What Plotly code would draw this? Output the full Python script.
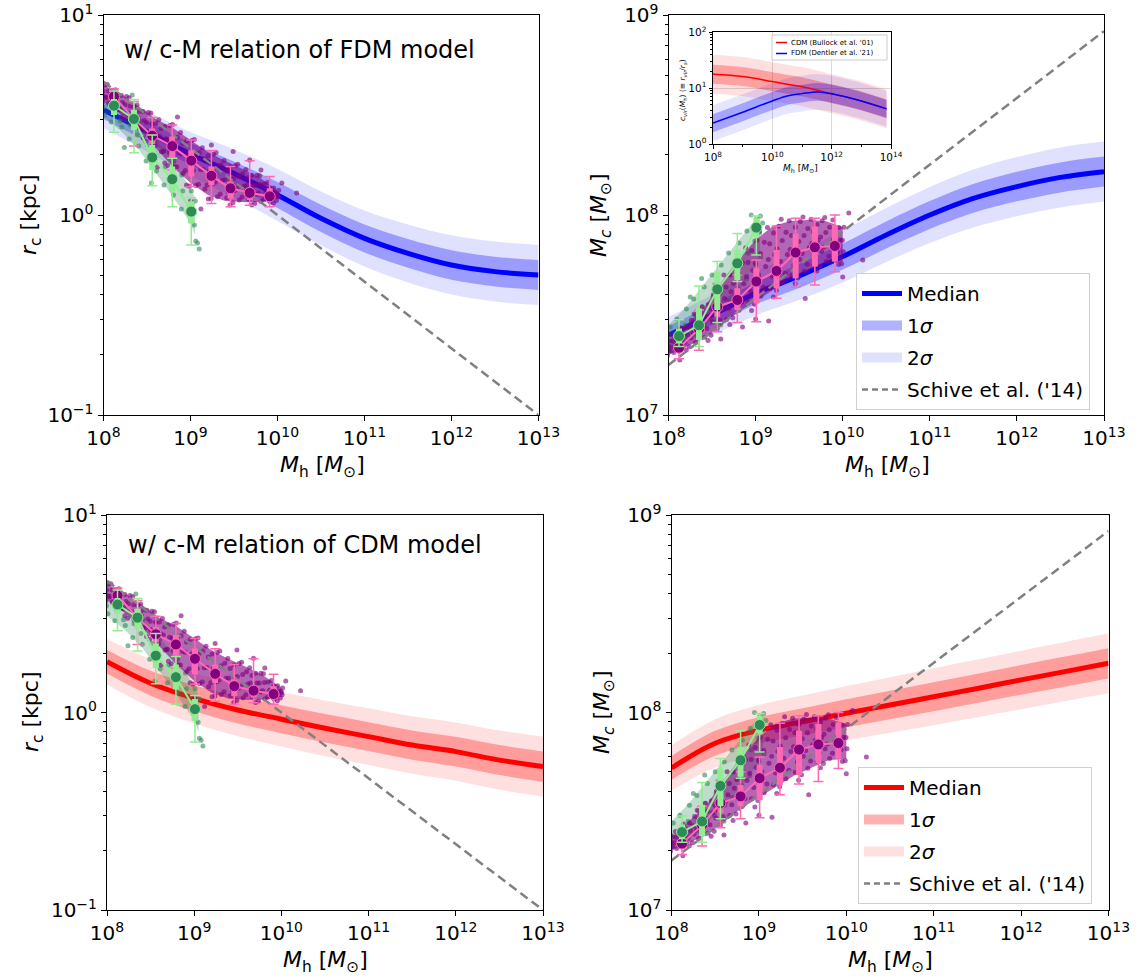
import plotly.graph_objects as go

FONT = "DejaVu Sans"
W, H = 1145, 978

# ---------------- model curves (halo mass grid) ----------------
MH_GRID = [1e8, 3.16e8, 1e9, 3.16e9, 1e10, 3.16e10, 1e11, 3.16e11, 1e12, 3.16e12, 1e13]

# FDM concentration: core radius [kpc]
FDM_RC_MED = [3.350, 2.612, 2.018, 1.614, 1.259, 0.962, 0.764, 0.643, 0.562, 0.521, 0.501]
FDM_RC_HI1 = [3.715, 2.931, 2.291, 1.854, 1.462, 1.125, 0.897, 0.759, 0.667, 0.619, 0.596]
FDM_RC_LO1 = [3.020, 2.328, 1.778, 1.406, 1.084, 0.822, 0.650, 0.545, 0.474, 0.439, 0.422]
FDM_RC_HI2 = [4.121, 3.289, 2.600, 2.128, 1.698, 1.312, 1.054, 0.897, 0.791, 0.736, 0.708]
FDM_RC_LO2 = [2.723, 2.075, 1.567, 1.225, 0.933, 0.705, 0.553, 0.460, 0.400, 0.369, 0.355]

# FDM concentration: core mass [Msun]
FDM_MC_MED = [2.512e7, 3.162e7, 4.055e7, 4.955e7, 6.194e7, 7.943e7, 1.000e8, 1.211e8, 1.387e8, 1.542e8, 1.648e8]
FDM_MC_HI1 = [2.786e7, 3.548e7, 4.603e7, 5.689e7, 7.194e7, 9.290e7, 1.175e8, 1.429e8, 1.644e8, 1.832e8, 1.959e8]
FDM_MC_LO1 = [2.265e7, 2.818e7, 3.573e7, 4.315e7, 5.333e7, 6.792e7, 8.511e7, 1.026e8, 1.170e8, 1.297e8, 1.387e8]
FDM_MC_HI2 = [3.090e7, 3.981e7, 5.224e7, 6.531e7, 8.356e7, 1.084e8, 1.380e8, 1.690e8, 1.950e8, 2.178e8, 2.328e8]
FDM_MC_LO2 = [2.042e7, 2.512e7, 3.148e7, 3.758e7, 4.592e7, 5.821e7, 7.244e7, 8.670e7, 9.863e7, 1.091e8, 1.167e8]

# CDM concentration: core radius [kpc]
CDM_RC_MED = [1.807, 1.406, 1.180, 1.030, 0.925, 0.832, 0.755, 0.684, 0.634, 0.574, 0.532]
CDM_RC_HI1 = [2.075, 1.626, 1.374, 1.208, 1.089, 0.982, 0.893, 0.811, 0.753, 0.684, 0.635]
CDM_RC_LO1 = [1.574, 1.216, 1.014, 0.879, 0.785, 0.705, 0.638, 0.577, 0.533, 0.482, 0.446]
CDM_RC_HI2 = [2.355, 1.862, 1.585, 1.400, 1.271, 1.151, 1.052, 0.957, 0.891, 0.811, 0.755]
CDM_RC_LO2 = [1.387, 1.062, 0.879, 0.759, 0.673, 0.601, 0.542, 0.489, 0.451, 0.406, 0.375]

# CDM concentration: core mass [Msun]
CDM_MC_MED = [5.236e7, 6.982e7, 8.128e7, 8.974e7, 9.908e7, 1.091e8, 1.202e8, 1.324e8, 1.462e8, 1.611e8, 1.774e8]
CDM_MC_HI1 = [6.012e7, 8.072e7, 9.462e7, 1.052e8, 1.167e8, 1.288e8, 1.422e8, 1.570e8, 1.738e8, 1.919e8, 2.118e8]
CDM_MC_LO1 = [4.560e7, 6.039e7, 6.982e7, 7.656e7, 8.414e7, 9.247e7, 1.016e8, 1.117e8, 1.230e8, 1.352e8, 1.486e8]
CDM_MC_HI2 = [6.823e7, 9.247e7, 1.091e8, 1.219e8, 1.361e8, 1.510e8, 1.675e8, 1.853e8, 2.056e8, 2.275e8, 2.518e8]
CDM_MC_LO2 = [4.018e7, 5.272e7, 6.053e7, 6.607e7, 7.211e7, 7.889e7, 8.630e7, 9.462e7, 1.040e8, 1.140e8, 1.250e8]

# Schive et al. (2014) core-halo relation
SCHIVE_MH = [1e8, 1e13]
SCHIVE_RC = [4.64, 0.1]
SCHIVE_MC = [1.78e7, 8.3e8]

# ---------------- concentration-mass relations (inset) ----------------
INSET_MH = [1e8, 1e9, 1e10, 3.16e10, 1e11, 3.16e11, 1e12, 1e13, 7.08e13]
CVIR_CDM_MED = [17.7, 16.1, 13.1, 11.7, 10.6, 9.23, 7.94, 5.90, 4.25]
CVIR_CDM_HI1 = [26.2, 23.8, 19.3, 17.4, 15.7, 13.6, 11.7, 8.73, 6.28]
CVIR_CDM_LO1 = [12.0, 10.9, 8.83, 7.94, 7.19, 6.24, 5.37, 3.99, 2.87]
CVIR_CDM_HI2 = [39.7, 36.0, 29.2, 26.3, 23.8, 20.7, 17.8, 13.2, 9.51]
CVIR_CDM_LO2 = [7.93, 7.18, 5.83, 5.25, 4.75, 4.12, 3.55, 2.64, 1.90]
CVIR_FDM_MED = [2.36, 3.71, 5.90, 7.24, 7.98, 8.55, 7.94, 5.90, 4.25]
CVIR_FDM_HI1 = [3.40, 5.36, 8.53, 10.5, 11.5, 12.4, 11.5, 8.53, 6.14]
CVIR_FDM_LO1 = [1.63, 2.56, 4.08, 5.01, 5.52, 5.92, 5.50, 4.08, 2.94]
CVIR_FDM_HI2 = [4.92, 7.74, 12.3, 15.1, 16.7, 17.9, 16.6, 12.3, 8.87]
CVIR_FDM_LO2 = [1.13, 1.77, 2.82, 3.47, 3.82, 4.09, 3.80, 2.82, 2.03]
INSET_LABELS = ["CDM (Bullock et al. '01)", "FDM (Dentler et al. '21)"]

# ---------------- simulated haloes: binned statistics ----------------
BIN_MH = [1.32e8, 2.24e8, 3.63e8, 6.17e8, 1.02e9, 1.74e9, 2.88e9, 4.79e9, 8.13e9]
GBIN_MH = [1.32e8, 2.24e8, 3.63e8, 6.17e8, 1.02e9]

PINK_RC_MED = [3.91, 3.02, 2.49, 2.21, 1.87, 1.57, 1.36, 1.29, 1.24]
PINK_RC_HI = [4.27, 3.69, 3.07, 2.82, 2.37, 2.10, 1.75, 1.87, 1.56]
PINK_RC_LO = [3.55, 2.21, 2.00, 1.68, 1.39, 1.14, 1.10, 1.12, 1.10]
PINK_RC_HIQ = [4.09, 3.35, 2.71, 2.47, 2.11, 1.75, 1.47, 1.36, 1.36]
PINK_RC_LOQ = [3.73, 2.71, 2.26, 1.94, 1.56, 1.41, 1.21, 1.19, 1.17]

GREEN_RC_MED = [3.52, 3.02, 1.94, 1.51, 1.04]
GREEN_RC_HI = [4.17, 3.78, 2.51, 1.92, 1.22]
GREEN_RC_LO = [2.59, 2.05, 1.40, 1.10, 0.708]
GREEN_RC_HIQ = [3.80, 3.35, 2.24, 1.75, 1.17]
GREEN_RC_LOQ = [3.16, 2.66, 1.68, 1.31, 0.908]

PINK_MC_MED = [2.17e7, 2.69e7, 3.48e7, 3.76e7, 4.65e7, 5.25e7, 6.49e7, 6.89e7, 7.00e7]
PINK_MC_HI = [2.51e7, 3.35e7, 4.55e7, 5.01e7, 5.96e7, 8.81e7, 9.62e7, 9.62e7, 1.00e8]
PINK_MC_LO = [1.91e7, 2.11e7, 2.61e7, 2.90e7, 2.93e7, 3.83e7, 4.35e7, 4.47e7, 5.21e7]
PINK_MC_HIQ = [2.29e7, 3.02e7, 3.91e7, 4.30e7, 5.41e7, 6.68e7, 8.09e7, 8.75e7, 8.91e7]
PINK_MC_LOQ = [2.04e7, 2.43e7, 3.10e7, 3.35e7, 3.61e7, 4.30e7, 4.82e7, 5.52e7, 5.85e7]

GREEN_MC_MED = [2.48e7, 2.81e7, 4.25e7, 5.73e7, 8.65e7]
GREEN_MC_HI = [2.99e7, 4.42e7, 5.85e7, 8.09e7, 9.89e7]
GREEN_MC_LO = [2.20e7, 2.20e7, 2.90e7, 4.65e7, 6.31e7]
GREEN_MC_HIQ = [2.71e7, 3.41e7, 5.21e7, 6.68e7, 9.62e7]
GREEN_MC_LOQ = [2.28e7, 2.37e7, 3.35e7, 4.73e7, 7.80e7]

# ---------------- simulated haloes: individual systems (log10 values) ----------------
PUR_LOGM = [
    7.988, 8.008, 7.996, 8.014, 8.06, 8.035, 8.056, 8.044, 8.092, 8.115, 8.10,
    8.166, 8.146, 8.162, 8.136, 8.204, 8.19, 8.218, 8.206, 8.238, 8.258, 8.246, 8.264,
    8.31, 8.285, 8.306, 8.294, 8.342, 8.365, 8.35, 8.416, 8.396, 8.412, 8.386,
    8.454, 8.44, 8.468, 8.456, 8.488, 8.508, 8.496, 8.514, 8.56, 8.535, 8.556, 8.544,
    8.592, 8.615, 8.60, 8.666, 8.646, 8.662, 8.636, 8.704, 8.69, 8.718, 8.706,
    8.738, 8.758, 8.746, 8.764, 8.81, 8.785, 8.806, 8.794, 8.842, 8.865, 8.85,
    8.916, 8.896, 8.912, 8.886, 8.954, 8.94, 8.968, 8.956, 8.988, 9.008, 8.996, 9.014,
    9.06, 9.035, 9.056, 9.044, 9.092, 9.115, 9.10, 9.166, 9.146, 9.162, 9.136,
    9.204, 9.19, 9.218, 9.206, 9.238, 9.258, 9.246, 9.264, 9.31, 9.285, 9.306, 9.294,
    9.342, 9.365, 9.35, 9.416, 9.396, 9.412, 9.386, 9.454, 9.44, 9.468, 9.456,
    9.488, 9.508, 9.496, 9.514, 9.56, 9.535, 9.556, 9.544, 9.592, 9.615, 9.60,
    9.666, 9.646, 9.662, 9.636, 9.704, 9.69, 9.718, 9.706, 9.738, 9.758, 9.746, 9.764,
    9.81, 9.785, 9.806, 9.794, 9.842, 9.865, 9.85, 9.916, 9.896, 9.912, 9.886,
    9.954, 9.94, 9.968, 9.956, 9.988, 10.008, 9.996, 10.014,
]
PUR_LOGRC = [
    .565, .593, .62, .65, .558, .589, .620, .652, .554, .586, .624,
    .529, .575, .60, .626, .49, .525, .562, .598, .477, .515, .551, .592,
    .467, .506, .545, .586, .459, .498, .543, .433, .488, .518, .55,
    .385, .428, .473, .518, .369, .416, .462, .513, .357, .407, .457, .51,
    .348, .399, .458, .316, .392, .433, .476, .26, .319, .381, .443,
    .247, .313, .376, .447, .24, .31, .38, .453, .241, .31, .389,
    .209, .305, .357, .412, .15, .222, .296, .37, .144, .219, .292, .373,
    .147, .223, .299, .377, .154, .227, .311, .13, .228, .281, .336,
    .08, .15, .223, .296, .083, .156, .226, .304, .091, .164, .237, .312,
    .105, .173, .25, .086, .175, .223, .273, .05, .112, .177, .241,
    .061, .123, .182, .248, .075, .134, .193, .254, .09, .144, .206,
    .079, .149, .187, .227, .05, .099, .149, .199, .058, .104, .149, .199,
    .068, .11, .152, .196, .077, .113, .155, .068, .112, .136, .162,
    .06, .084, .11, .135, .073, .09, .106, .124,
]
PUR_LOGMC = [
    7.296, 7.321, 7.345, 7.371, 7.312, 7.34, 7.368, 7.397, 7.333, 7.364, 7.40,
    7.336, 7.384, 7.409, 7.436, 7.325, 7.363, 7.402, 7.441, 7.341, 7.385, 7.427, 7.474,
    7.362, 7.409, 7.456, 7.505, 7.386, 7.435, 7.49, 7.389, 7.461, 7.50, 7.541,
    7.373, 7.432, 7.492, 7.553, 7.399, 7.466, 7.53, 7.601, 7.431, 7.504, 7.577, 7.652,
    7.472, 7.546, 7.63, 7.478, 7.583, 7.64, 7.70, 7.453, 7.533, 7.616, 7.70,
    7.486, 7.574, 7.659, 7.754, 7.524, 7.615, 7.706, 7.80, 7.565, 7.656, 7.761,
    7.563, 7.692, 7.762, 7.836, 7.522, 7.62, 7.722, 7.823, 7.554, 7.659, 7.76, 7.873,
    7.594, 7.701, 7.808, 7.919, 7.638, 7.743, 7.864, 7.634, 7.778, 7.856, 7.938,
    7.59, 7.694, 7.802, 7.91, 7.624, 7.729, 7.831, 7.944, 7.664, 7.768, 7.872, 7.979,
    7.707, 7.803, 7.914, 7.698, 7.827, 7.897, 7.971, 7.657, 7.749, 7.844, 7.939,
    7.685, 7.778, 7.867, 7.967, 7.718, 7.808, 7.898, 7.99, 7.754, 7.837, 7.932,
    7.75, 7.859, 7.918, 7.979, 7.72, 7.796, 7.874, 7.952, 7.742, 7.817, 7.89, 7.971,
    7.767, 7.84, 7.913, 7.988, 7.794, 7.862, 7.939, 7.788, 7.877, 7.925, 7.975,
    7.752, 7.812, 7.875, 7.937, 7.756, 7.816, 7.874, 7.939,
]
PUR_RC_OUT_LOGM = [8.85, 9.24, 9.49, 9.68, 9.81, 10.0, 10.22, 10.05, 8.62, 9.0, 9.12]
PUR_RC_OUT_LOGR = [0.49, 0.35, 0.317, 0.275, 0.225, 0.10, 0.11, 0.16, 0.24, 0.07, 0.03]
PUR_MC_OUT_LOGM = [9.57, 10.23, 10.0, 8.13, 8.6, 9.0, 9.15, 8.85, 10.07]
PUR_MC_OUT_LOGMC = [7.583, 7.775, 7.69, 7.275, 7.38, 7.48, 7.47, 7.44, 8.01]

GRN_LOGM = [8.01, 7.995, 8.02, 8.09, 8.11, 8.095, 8.21, 8.19, 8.205, 8.295, 8.31, 8.29,
            8.405, 8.39, 8.41, 8.49, 8.51, 8.50, 8.61, 8.595, 8.605, 8.695, 8.71, 8.69,
            8.805, 8.79, 8.81, 8.895, 8.91, 8.90, 9.0, 8.99, 9.01, 9.06, 9.045, 9.055]
GRN_LOGRC = [.50, .54, .585, .465, .52, .57, .44, .47, .535, .38, .45, .51,
             .345, .40, .47, .27, .35, .42, .22, .29, .37, .15, .24, .32,
             .10, .18, .27, .03, .12, .20, -.03, .04, .12, -.13, -.05, .07]
GRN_LOGMC = [7.32, 7.38, 7.44, 7.345, 7.41, 7.48, 7.38, 7.45, 7.53, 7.40, 7.50, 7.58,
             7.45, 7.54, 7.64, 7.48, 7.59, 7.70, 7.53, 7.63, 7.75, 7.57, 7.70, 7.81,
             7.63, 7.74, 7.86, 7.68, 7.81, 7.92, 7.75, 7.87, 7.98, 7.79, 7.91, 7.995]
GRN_RC_OUT_LOGM = [8.24, 8.33, 8.55, 9.08, 9.10]
GRN_RC_OUT_LOGR = [0.338, 0.60, 0.16, -0.14, -0.17]
GRN_MC_OUT_LOGM = [8.38, 8.25, 8.95, 9.08, 8.60]
GRN_MC_OUT_LOGMC = [7.683, 7.59, 8.0, 7.96, 7.45]

# densest parts of the two simulated samples
CORE_LOGM = [8.0, 8.2, 8.4, 8.6, 8.8, 9.0, 9.2, 9.4, 9.6, 9.8, 10.0]
RC_CORE_LO = [0.57, 0.505, 0.43, 0.335, 0.24, 0.16, 0.10, 0.07, 0.065, 0.065, 0.08]
RC_CORE_HI = [0.65, 0.605, 0.545, 0.48, 0.435, 0.375, 0.315, 0.27, 0.23, 0.185, 0.125]
MC_CORE_LO = [7.30, 7.34, 7.38, 7.445, 7.515, 7.57, 7.625, 7.68, 7.72, 7.76, 7.765]
MC_CORE_HI = [7.37, 7.45, 7.53, 7.66, 7.775, 7.875, 7.945, 7.97, 7.975, 7.97, 7.94]
GCORE_LOGM = [8.0, 8.2, 8.4, 8.6, 8.8, 9.0, 9.05]
GRC_CORE_LO = [0.49, 0.42, 0.33, 0.21, 0.09, -0.04, -0.10]
GRC_CORE_HI = [0.59, 0.545, 0.48, 0.38, 0.28, 0.13, 0.09]
GMC_CORE_LO = [7.31, 7.37, 7.44, 7.52, 7.62, 7.75, 7.79]
GMC_CORE_HI = [7.45, 7.54, 7.65, 7.76, 7.87, 7.98, 7.99]

# ---------------- styles ----------------
BLUE, RED = "#0000ff", "#ff0000"
BLUE_1S, BLUE_2S = "rgba(0,0,255,0.30)", "rgba(0,0,255,0.12)"
RED_1S, RED_2S = "rgba(255,0,0,0.30)", "rgba(255,0,0,0.12)"
PINK, PURPLE = "#ff69b4", "#800080"
LGREEN, SGREEN = "#90ee90", "#2e8b57"
GRAY = "#808080"


def lin(vals):
    return [10 ** v for v in vals]


fig = go.Figure()


def band(xa, ya, xs, lo, hi, fill, shape="spline"):
    fig.add_trace(go.Scatter(x=xs, y=lo, mode="lines", line=dict(width=0, shape=shape),
                             xaxis=xa, yaxis=ya, showlegend=False, hoverinfo="skip"))
    fig.add_trace(go.Scatter(x=xs, y=hi, mode="lines", line=dict(width=0, shape=shape),
                             fill="tonexty", fillcolor=fill, xaxis=xa, yaxis=ya,
                             showlegend=False, hoverinfo="skip"))


def dots(xa, ya, logx, logy, color):
    fig.add_trace(go.Scatter(x=lin(logx), y=lin(logy), mode="markers",
                             marker=dict(size=5, color=color, line=dict(width=0)),
                             xaxis=xa, yaxis=ya, showlegend=False, hoverinfo="skip"))


def cloud(xa, ya, quantity):
    if quantity == "rc":
        band(xa, ya, lin(GCORE_LOGM), lin(GRC_CORE_LO), lin(GRC_CORE_HI), "rgba(46,139,87,0.30)", "linear")
        dots(xa, ya, GRN_LOGM + GRN_RC_OUT_LOGM, GRN_LOGRC + GRN_RC_OUT_LOGR, "rgba(46,139,87,0.6)")
        band(xa, ya, lin(CORE_LOGM), lin(RC_CORE_LO), lin(RC_CORE_HI), "rgba(128,0,128,0.6)", "linear")
        dots(xa, ya, PUR_LOGM + PUR_RC_OUT_LOGM, PUR_LOGRC + PUR_RC_OUT_LOGR, "rgba(128,0,128,0.62)")
    else:
        band(xa, ya, lin(GCORE_LOGM), lin(GMC_CORE_LO), lin(GMC_CORE_HI), "rgba(46,139,87,0.30)", "linear")
        dots(xa, ya, GRN_LOGM + GRN_MC_OUT_LOGM, GRN_LOGMC + GRN_MC_OUT_LOGMC, "rgba(46,139,87,0.6)")
        band(xa, ya, lin(CORE_LOGM), lin(MC_CORE_LO), lin(MC_CORE_HI), "rgba(128,0,128,0.6)", "linear")
        dots(xa, ya, PUR_LOGM + PUR_MC_OUT_LOGM, PUR_LOGMC + PUR_MC_OUT_LOGMC, "rgba(128,0,128,0.62)")


def binned(xa, ya, xs, med, lo, hi, loq, hiq, line_col, mk_col):
    for low, high, thick, cap in ((lo, hi, 1.5, 5), (loq, hiq, 6, 0)):
        fig.add_trace(go.Scatter(
            x=xs, y=med, mode="markers", marker=dict(size=1, color="rgba(0,0,0,0)"),
            error_y=dict(type="data", symmetric=False,
                         array=[h - m for h, m in zip(high, med)],
                         arrayminus=[m - l for m, l in zip(med, low)],
                         color=line_col, thickness=thick, width=cap),
            xaxis=xa, yaxis=ya, showlegend=False, hoverinfo="skip"))
    fig.add_trace(go.Scatter(x=xs, y=med, mode="lines+markers",
                             line=dict(color=line_col, width=2),
                             marker=dict(size=11, color=mk_col, line=dict(color=line_col, width=1)),
                             xaxis=xa, yaxis=ya, showlegend=False, hoverinfo="skip"))


def panel(xa, ya, med, lo1, hi1, lo2, hi2, col, f1, f2, schive, quantity):
    band(xa, ya, MH_GRID, lo2, hi2, f2)
    band(xa, ya, MH_GRID, lo1, hi1, f1)
    fig.add_trace(go.Scatter(x=MH_GRID, y=med, mode="lines",
                             line=dict(color=col, width=5, shape="spline"),
                             xaxis=xa, yaxis=ya, showlegend=False, hoverinfo="skip"))
    cloud(xa, ya, quantity)
    fig.add_trace(go.Scatter(x=SCHIVE_MH, y=schive, mode="lines",
                             line=dict(color=GRAY, width=2.5, dash="9px,5px"),
                             xaxis=xa, yaxis=ya, showlegend=False, hoverinfo="skip"))
    if quantity == "rc":
        binned(xa, ya, BIN_MH, PINK_RC_MED, PINK_RC_LO, PINK_RC_HI, PINK_RC_LOQ, PINK_RC_HIQ, PINK, PURPLE)
        binned(xa, ya, GBIN_MH, GREEN_RC_MED, GREEN_RC_LO, GREEN_RC_HI, GREEN_RC_LOQ, GREEN_RC_HIQ, LGREEN, SGREEN)
    else:
        binned(xa, ya, BIN_MH, PINK_MC_MED, PINK_MC_LO, PINK_MC_HI, PINK_MC_LOQ, PINK_MC_HIQ, PINK, PURPLE)
        binned(xa, ya, GBIN_MH, GREEN_MC_MED, GREEN_MC_LO, GREEN_MC_HI, GREEN_MC_LOQ, GREEN_MC_HIQ, LGREEN, SGREEN)


def legend_entries(xa, ya, legend, col, f1, f2):
    entries = [
        ("Median", dict(color=col, width=5)),
        ("1<i>σ</i>", dict(color=f1, width=16)),
        ("2<i>σ</i>", dict(color=f2, width=16)),
        ("Schive et al. ('14)", dict(color=GRAY, width=2.5, dash="6px,4px")),
    ]
    for i, (name, line) in enumerate(entries):
        fig.add_trace(go.Scatter(x=[None], y=[None], mode="lines", name=name, line=line,
                                 xaxis=xa, yaxis=ya, legend=legend, legendgroup=f"{legend}{i}",
                                 showlegend=True, hoverinfo="skip"))


panel("x", "y", FDM_RC_MED, FDM_RC_LO1, FDM_RC_HI1, FDM_RC_LO2, FDM_RC_HI2, BLUE, BLUE_1S, BLUE_2S, SCHIVE_RC, "rc")
panel("x2", "y2", FDM_MC_MED, FDM_MC_LO1, FDM_MC_HI1, FDM_MC_LO2, FDM_MC_HI2, BLUE, BLUE_1S, BLUE_2S, SCHIVE_MC, "mc")
panel("x3", "y3", CDM_RC_MED, CDM_RC_LO1, CDM_RC_HI1, CDM_RC_LO2, CDM_RC_HI2, RED, RED_1S, RED_2S, SCHIVE_RC, "rc")
panel("x4", "y4", CDM_MC_MED, CDM_MC_LO1, CDM_MC_HI1, CDM_MC_LO2, CDM_MC_HI2, RED, RED_1S, RED_2S, SCHIVE_MC, "mc")
legend_entries("x2", "y2", "legend", BLUE, BLUE_1S, BLUE_2S)
legend_entries("x4", "y4", "legend2", RED, RED_1S, RED_2S)

# inset: concentration-mass relations
band("x5", "y5", INSET_MH, CVIR_CDM_LO2, CVIR_CDM_HI2, "rgba(255,0,0,0.12)")
band("x5", "y5", INSET_MH, CVIR_CDM_LO1, CVIR_CDM_HI1, "rgba(255,0,0,0.28)")
band("x5", "y5", INSET_MH, CVIR_FDM_LO2, CVIR_FDM_HI2, "rgba(0,0,255,0.10)")
band("x5", "y5", INSET_MH, CVIR_FDM_LO1, CVIR_FDM_HI1, "rgba(0,0,255,0.28)")
fig.add_trace(go.Scatter(x=INSET_MH, y=CVIR_CDM_MED, mode="lines", showlegend=False,
                         line=dict(color=RED, width=1.5, shape="spline"), xaxis="x5", yaxis="y5",
                         hoverinfo="skip"))
fig.add_trace(go.Scatter(x=INSET_MH, y=CVIR_FDM_MED, mode="lines", showlegend=False,
                         line=dict(color=BLUE, width=1.5, shape="spline"), xaxis="x5", yaxis="y5",
                         hoverinfo="skip"))


def dom_x(a, b):
    return [a / W, b / W]


def dom_y(top, bottom):
    return [1 - bottom / H, 1 - top / H]


def sup(e):
    return f"10<sup>{e}</sup>"


MH_TICKS = [1e8, 1e9, 1e10, 1e11, 1e12, 1e13]
MH_TEXT = [sup(e) for e in range(8, 14)]
RC_TICKS = [0.1, 1, 10]
RC_TEXT = [sup("−1"), sup(0), sup(1)]
RC_MINOR = [0.2, 0.3, 0.4, 0.5, 0.6, 0.7, 0.8, 0.9, 2, 3, 4, 5, 6, 7, 8, 9]
MC_TICKS = [1e7, 1e8, 1e9]
MC_TEXT = [sup(7), sup(8), sup(9)]
MC_MINOR = [2e7, 3e7, 4e7, 5e7, 6e7, 7e7, 8e7, 9e7, 2e8, 3e8, 4e8, 5e8, 6e8, 7e8, 8e8, 9e8]


def axis(domain, rng, anchor, tv, tt, minor=None, size=20, ticklen=5, grid=False):
    d = dict(type="log", domain=domain, range=rng, anchor=anchor, tickmode="array",
             tickvals=tv, ticktext=tt, ticks="outside", ticklen=ticklen, tickwidth=1,
             tickcolor="black", showline=True, linecolor="black", linewidth=1, mirror=True,
             showgrid=grid, gridcolor="#d9d9d9", gridwidth=1, zeroline=False, automargin=False,
             tickfont=dict(family=FONT, size=size, color="black"))
    if minor:
        d["minor"] = dict(tickmode="array", tickvals=minor, ticks="outside",
                          ticklen=max(2, ticklen - 2), tickcolor="black", showgrid=False)
    return d


TL = dict(x=(103.5, 538.5), y=(15, 415))
TR = dict(x=(668.5, 1104), y=(15, 415))
BL = dict(x=(107, 543), y=(515, 910))
BR = dict(x=(671.5, 1108.5), y=(515, 910))
IN = dict(x=(713, 891), y=(32.3, 144))

LEG = dict(xanchor="left", yanchor="top", font=dict(family=FONT, size=20, color="black"),
           bgcolor="rgba(255,255,255,0.8)", bordercolor="#d0d0d0", borderwidth=1,
           itemwidth=40, traceorder="grouped", tracegroupgap=3)

fig.update_layout(
    width=W, height=H, autosize=False,
    margin=dict(l=0, r=0, t=0, b=0, pad=0, autoexpand=False),
    paper_bgcolor="white", plot_bgcolor="rgba(0,0,0,0)",
    font=dict(family=FONT, color="black"),
    xaxis=axis(dom_x(*TL["x"]), [8, 13], "y", MH_TICKS, MH_TEXT),
    yaxis=axis(dom_y(*TL["y"]), [-1, 1], "x", RC_TICKS, RC_TEXT, RC_MINOR),
    xaxis2=axis(dom_x(*TR["x"]), [8, 13], "y2", MH_TICKS, MH_TEXT),
    yaxis2=axis(dom_y(*TR["y"]), [7, 9], "x2", MC_TICKS, MC_TEXT, MC_MINOR),
    xaxis3=axis(dom_x(*BL["x"]), [8, 13], "y3", MH_TICKS, MH_TEXT),
    yaxis3=axis(dom_y(*BL["y"]), [-1, 1], "x3", RC_TICKS, RC_TEXT, RC_MINOR),
    xaxis4=axis(dom_x(*BR["x"]), [8, 13], "y4", MH_TICKS, MH_TEXT),
    yaxis4=axis(dom_y(*BR["y"]), [7, 9], "x4", MC_TICKS, MC_TEXT, MC_MINOR),
    xaxis5=axis(dom_x(*IN["x"]), [8, 14], "y5", [1e8, 1e10, 1e12, 1e14],
                [sup(8), sup(10), sup(12), sup(14)], [1e9, 1e11, 1e13], size=10.5, ticklen=3.5, grid=True),
    yaxis5=axis(dom_y(*IN["y"]), [0, 2], "x5", [1, 10, 100], [sup(0), sup(1), sup(2)],
                [2, 3, 4, 5, 6, 7, 8, 9, 20, 30, 40, 50, 60, 70, 80, 90], size=10.5, ticklen=3.5, grid=True),
    legend=dict(x=856 / W, y=1 - 273 / H, **LEG),
    legend2=dict(x=858 / W, y=1 - 767 / H, **LEG),
)

# key for the inset curves
fig.add_shape(type="rect", xref="paper", yref="paper",
              x0=772 / W, x1=887 / W, y0=1 - 60 / H, y1=1 - 35 / H,
              line=dict(color="#cccccc", width=1), fillcolor="rgba(255,255,255,0.8)")
for row, (label, col) in enumerate(zip(INSET_LABELS, [RED, BLUE])):
    yy = 1 - (42.5 + 11 * row) / H
    fig.add_shape(type="line", xref="paper", yref="paper", x0=776 / W, x1=787 / W, y0=yy, y1=yy,
                  line=dict(color=col, width=1.5))
    fig.add_annotation(text=label, x=789 / W, y=yy, xref="paper", yref="paper", showarrow=False,
                       xanchor="left", yanchor="middle", font=dict(family=FONT, size=7, color="black"))

MH_LABEL = "<i>M</i><sub>h</sub> [<i>M</i><sub>⊙</sub>]"
RC_LABEL = "<i>r</i><sub>c</sub> [kpc]"
MC_LABEL = "<i>M<sub>c</sub></i> [<i>M</i><sub>⊙</sub>]"


def note(text, x, y, size, angle=0, xanchor="center"):
    fig.add_annotation(text=text, x=x / W, y=1 - y / H, xref="paper", yref="paper",
                       showarrow=False, textangle=angle, xanchor=xanchor, yanchor="middle",
                       font=dict(family=FONT, size=size, color="black"))


note(MH_LABEL, 322, 466, 22)
note(MH_LABEL, 887, 466, 22)
note(MH_LABEL, 325, 961, 22)
note(MH_LABEL, 890, 961, 22)
note(RC_LABEL, 30, 215, 22, -90)
note(MC_LABEL, 600, 215, 22, -90)
note(RC_LABEL, 32, 712, 22, -90)
note(MC_LABEL, 603, 712, 22, -90)
note("w/ c-M relation of FDM model", 122, 50, 24, xanchor="left")
note("w/ c-M relation of CDM model", 126, 545, 24, xanchor="left")
note(MH_LABEL, 800, 168, 9)
note("<i>c</i><sub><i>vir</i></sub>(<i>M</i><sub>h</sub>) (≡ <i>r</i><sub><i>vir</i></sub>/<i>r</i><sub><i>s</i></sub>)",
     683, 90, 7.5, -90)

fig.write_html("out.html")
